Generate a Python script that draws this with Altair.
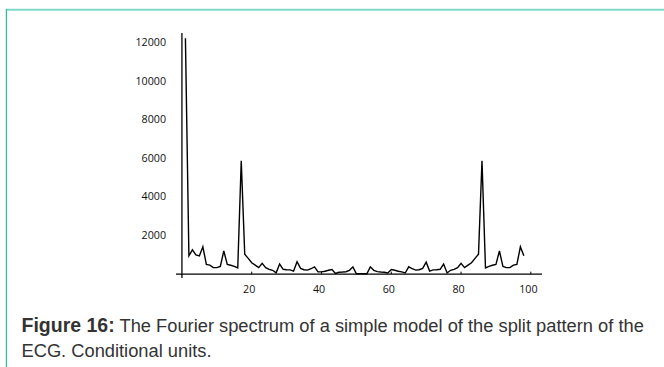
import altair as alt
import pandas as pd

# Fourier spectrum values (conditional units), index k = 1..98
k_values = list(range(1, 99))
amplitudes = [
    12230, 950, 1260, 1000, 950, 1418, 500, 470, 340, 340,
    400, 1200, 500, 460, 400, 320, 5880, 1030, 820, 590,
    470, 340, 560, 340, 250, 200, 70, 520, 250, 230,
    220, 160, 640, 300, 230, 207, 280, 380, 120, 120,
    150, 200, 242, 40, 100, 110, 125, 200, 380, 20,
    20, 20, 20, 380, 200, 130, 110, 100, 60, 240,
    200, 150, 120, 60, 380, 280, 207, 230, 300, 620,
    160, 220, 230, 250, 520, 60, 200, 250, 340, 560,
    340, 470, 590, 820, 1030, 5880, 320, 400, 460, 500,
    1200, 400, 340, 340, 470, 500, 1418, 950,
]
x_ticks = [20, 40, 60, 80, 100]
y_ticks = [2000, 4000, 6000, 8000, 10000, 12000]
caption_bold = ["Figure 16:"]
caption_line1 = ["The Fourier spectrum of a simple model of the split pattern of the"]
caption_line2 = ["ECG. Conditional units."]

df = pd.DataFrame({"k": k_values, "v": amplitudes})
ticks_df = pd.DataFrame({"t": x_ticks})

W, H = 366, 245
LEFT, TOP = 176, 33
FONT = "Open Sans"

xscale = alt.Scale(domain=[-1.7, 103.2], nice=False, zero=False)
yscale = alt.Scale(domain=[-200, 12500], nice=False, zero=False)

line = alt.Chart(df).mark_line(color="#000000", strokeWidth=1.4).encode(
    x=alt.X("k:Q", scale=xscale,
            axis=alt.Axis(values=x_ticks, title=None, domain=False, ticks=False,
                          tickSize=0, grid=False, labelPadding=6, labelOffset=-3,
                          format="d",
                          labelFont=FONT, labelFontSize=10.7, labelColor="#111111",
                          labelFlush=False)),
    y=alt.Y("v:Q", scale=yscale,
            axis=alt.Axis(values=y_ticks, title=None, domain=False, ticks=False,
                          tickSize=0, grid=False, labelPadding=10.5,
                          format="d",
                          labelFont=FONT, labelFontSize=10.7, labelColor="#111111",
                          labelFlush=False)),
)

x_axis_line = alt.Chart(ticks_df.head(1)).mark_rule(color="#000000", strokeWidth=1.3).encode(
    x=alt.value(0), x2=alt.value(W), y=alt.Y(datum=0, scale=yscale)
)
y_axis_line = alt.Chart(ticks_df.head(1)).mark_rule(color="#000000", strokeWidth=1.3).encode(
    x=alt.X(datum=0, scale=xscale), y=alt.value(0), y2=alt.value(H)
)
x_tick_marks = alt.Chart(ticks_df).mark_rule(color="#000000", strokeWidth=1).encode(
    x=alt.X("t:Q", scale=xscale),
    y=alt.Y(datum=0, scale=yscale),
    y2=alt.Y2(datum=130),
)

frame_top = alt.Chart(ticks_df.head(1)).mark_rule(color="#80d8ca", strokeWidth=2).encode(
    x=alt.value(6 - LEFT), x2=alt.value(664 - LEFT), y=alt.value(9.8 - TOP)
)
frame_left = alt.Chart(ticks_df.head(1)).mark_rule(color="#1fc1a0", strokeWidth=1.2).encode(
    x=alt.value(6.4 - LEFT), y=alt.value(9 - TOP), y2=alt.value(367 - TOP)
)

cap_bold = alt.Chart(pd.DataFrame({"t": caption_bold})).mark_text(
    font="Liberation Sans", fontSize=19.5, fontWeight="bold", color="#333333",
    align="left", baseline="alphabetic"
).encode(x=alt.value(21.5 - LEFT), y=alt.value(331.5 - TOP), text="t:N")

cap_l1 = alt.Chart(pd.DataFrame({"t": caption_line1})).mark_text(
    font="Liberation Sans", fontSize=18.3, color="#333333",
    align="left", baseline="alphabetic"
).encode(x=alt.value(119.5 - LEFT), y=alt.value(331.5 - TOP), text="t:N")

cap_l2 = alt.Chart(pd.DataFrame({"t": caption_line2})).mark_text(
    font="Liberation Sans", fontSize=18.3, color="#333333",
    align="left", baseline="alphabetic"
).encode(x=alt.value(21.5 - LEFT), y=alt.value(356.5 - TOP), text="t:N")

chart = alt.layer(
    frame_top, frame_left, line, x_axis_line, y_axis_line, x_tick_marks,
    cap_bold, cap_l1, cap_l2
).properties(
    width=W, height=H,
    autosize=alt.AutoSizeParams(type="none"),
    padding={"left": LEFT, "top": TOP, "right": 664 - LEFT - W, "bottom": 367 - TOP - H},
    background="#ffffff",
).configure_view(stroke=None)

chart.save("out.html", embed_options={"renderer": "svg", "actions": False})
